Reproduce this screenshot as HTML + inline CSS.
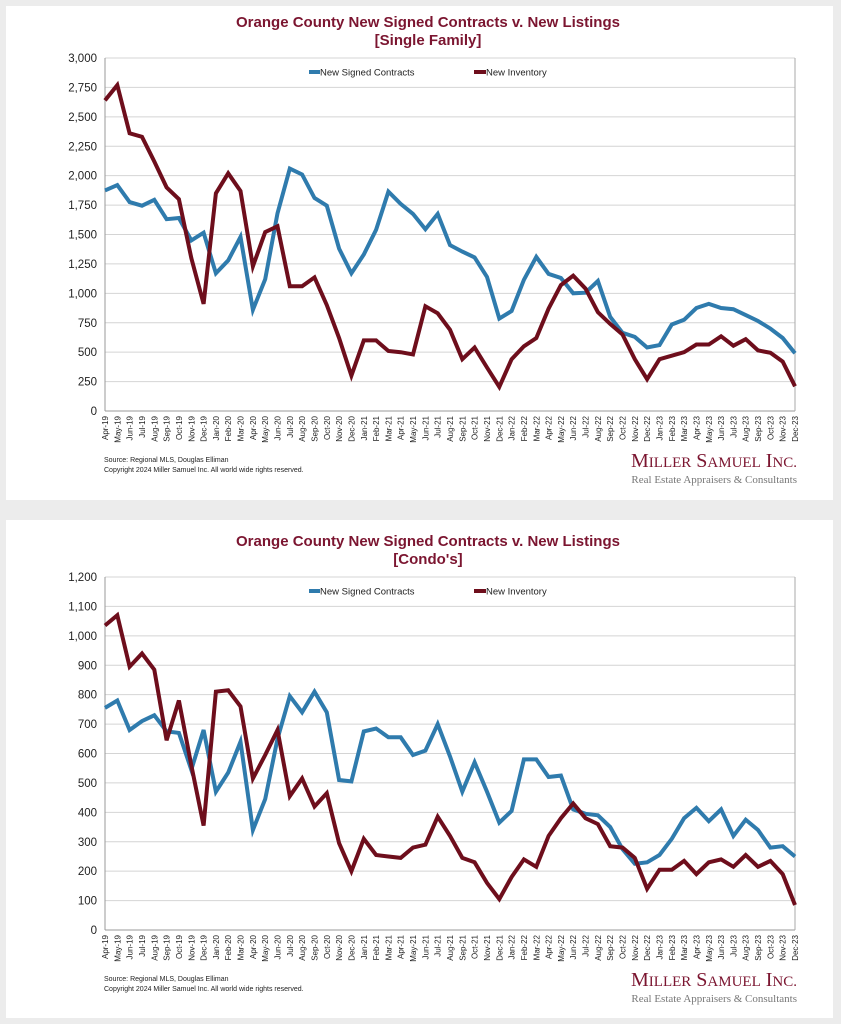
<!DOCTYPE html>
<html><head><meta charset="utf-8">
<style>
body{margin:0;width:841px;height:1024px;background:#ececec;font-family:"Liberation Sans",sans-serif;overflow:hidden}
.panel{position:absolute;left:6px;width:827px;background:#fff}
svg{position:absolute;left:0;top:0}
</style></head><body>
<div class="panel" style="top:6px;height:494px"></div>
<div class="panel" style="top:520px;height:498px"></div>
<svg id="s" width="841" height="1024"></svg>
<script>
const months = ["Apr-19","May-19","Jun-19","Jul-19","Aug-19","Sep-19","Oct-19","Nov-19","Dec-19","Jan-20","Feb-20","Mar-20","Apr-20","May-20","Jun-20","Jul-20","Aug-20","Sep-20","Oct-20","Nov-20","Dec-20","Jan-21","Feb-21","Mar-21","Apr-21","May-21","Jun-21","Jul-21","Aug-21","Sep-21","Oct-21","Nov-21","Dec-21","Jan-22","Feb-22","Mar-22","Apr-22","May-22","Jun-22","Jul-22","Aug-22","Sep-22","Oct-22","Nov-22","Dec-22","Jan-23","Feb-23","Mar-23","Apr-23","May-23","Jun-23","Jul-23","Aug-23","Sep-23","Oct-23","Nov-23","Dec-23"];
const sfContracts = [1875,1920,1775,1745,1795,1630,1640,1450,1515,1170,1280,1480,860,1120,1680,2060,2010,1810,1745,1380,1170,1330,1540,1865,1760,1675,1545,1675,1410,1355,1305,1140,785,850,1115,1310,1165,1130,1000,1005,1105,800,665,630,540,560,735,775,875,910,875,865,815,765,700,620,490];
const sfInventory = [2640,2770,2360,2330,2120,1900,1800,1300,910,1850,2020,1870,1230,1520,1570,1060,1060,1135,900,620,300,600,600,510,500,480,890,830,690,440,540,370,205,440,550,620,870,1070,1150,1040,840,740,650,440,270,440,470,500,565,565,635,555,610,515,495,420,210];
const condoContracts = [755,780,680,710,730,675,670,545,680,470,535,640,340,445,650,795,740,810,740,510,505,675,685,655,655,595,610,700,590,470,570,470,365,405,580,580,520,525,410,395,390,350,275,225,230,255,310,380,415,370,410,320,375,340,280,285,250];
const condoInventory = [1035,1070,895,940,885,645,780,560,355,810,815,760,515,595,680,455,515,420,465,295,200,310,255,250,245,280,290,385,320,245,230,160,105,180,240,215,320,380,430,380,360,285,280,245,140,205,205,235,190,230,240,215,255,215,235,190,85];
const sfTicks = [0,250,500,750,1000,1250,1500,1750,2000,2250,2500,2750,3000];
const condoTicks = [0,100,200,300,400,500,600,700,800,900,1000,1100,1200];

const NS="http://www.w3.org/2000/svg";
const svg=document.getElementById('s');
function mk(tag,attrs,parent){const e=document.createElementNS(NS,tag);for(const k in attrs)e.setAttribute(k,attrs[k]);(parent||svg).appendChild(e);return e;}
function txt(str,attrs,parent){const e=mk('text',attrs,parent);e.textContent=str;return e;}

function chart(prefix,top,sub,ticks,maxV,c,inv,y0,y1){
  const g=mk('g',{});
  
  
  const xL=105,xR=795;
  const xs=i=>xL+i*(xR-xL)/(months.length-1);
  const ys=v=>y1-(v/maxV)*(y1-y0);
  const t1=txt('Orange County New Signed Contracts v. New Listings',{x:428,y:top+21,'text-anchor':'middle','font-size':15,'font-weight':'bold',fill:'#7b1530'},g);
  
  
  const t2=txt(sub,{x:428,y:top+39,'text-anchor':'middle','font-size':15,'font-weight':'bold',fill:'#7b1530'},g);
  
  
  ticks.forEach(v=>{
    const l=mk('line',{x1:xL,x2:xR,y1:ys(v),y2:ys(v),stroke:v===0?'#999':'#d4d4d4','stroke-width':1},g);
    
    
    const t=txt(v.toLocaleString('en-US'),{x:97,y:ys(v)+4,'text-anchor':'end','font-size':11.5,fill:'#222'},g);
    
    
  });
  const ax=mk('line',{x1:xL,x2:xL,y1:y0,y2:y1,stroke:'#999'},g);
  
  
  const ax2=mk('line',{x1:xR,x2:xR,y1:y0,y2:y1,stroke:'#aaa'},g);
  
  
  months.forEach((m,i)=>{
    const t=txt(m,{x:0,y:0,'text-anchor':'end','font-size':8,fill:'#222',transform:`translate(${xs(i)+3},${y1+5}) rotate(-90)`},g);
    
    
  });
  [[c,'#2f7bad','contracts-line'],[inv,'#6e0e1c','inventory-line']].forEach(([d,col,n])=>{
    const p=mk('polyline',{points:d.map((v,i)=>xs(i).toFixed(1)+','+ys(v).toFixed(1)).join(' '),fill:'none',stroke:col,'stroke-width':4,'stroke-linejoin':'miter'},g);
    
    
  });
  const ly=top+66;
  const l1=mk('line',{x1:309,x2:320,y1:ly,y2:ly,stroke:'#2f7bad','stroke-width':4},g);
  
  
  const lt1=txt('New Signed Contracts',{x:320,y:ly+3.5,'font-size':9.5,fill:'#222'},g);
  
  
  const l2=mk('line',{x1:474,x2:486,y1:ly,y2:ly,stroke:'#6e0e1c','stroke-width':4},g);
  
  
  const lt2=txt('New Inventory',{x:486,y:ly+3.5,'font-size':9.5,fill:'#222'},g);
  
  
  const fy=y1+51;
  const s1=txt('Source: Regional MLS, Douglas Elliman',{x:104,y:fy,'font-size':7,fill:'#222'},g);
  
  
  const s2=txt('Copyright 2024 Miller Samuel Inc.  All world wide rights reserved.',{x:104,y:fy+10,'font-size':7,fill:'#222'},g);
  
  
  const lg=txt('',{x:797,y:fy+5,'text-anchor':'end','font-family':'Liberation Serif, serif','font-size':20,fill:'#7b1530'},g);
  lg.innerHTML='M<tspan font-size="15">ILLER</tspan> S<tspan font-size="15">AMUEL</tspan> I<tspan font-size="15">NC.</tspan>';
  
  
  const lg2=txt('Real Estate Appraisers & Consultants',{x:797,y:fy+21,'text-anchor':'end','font-family':'Liberation Serif, serif','font-size':11,fill:'#777'},g);
  
  
}
chart('single-family',6,'[Single Family]',sfTicks,3000,sfContracts,sfInventory,58,411);
chart('condo',525,"[Condo's]",condoTicks,1200,condoContracts,condoInventory,577,930);
</script>
</body></html>
